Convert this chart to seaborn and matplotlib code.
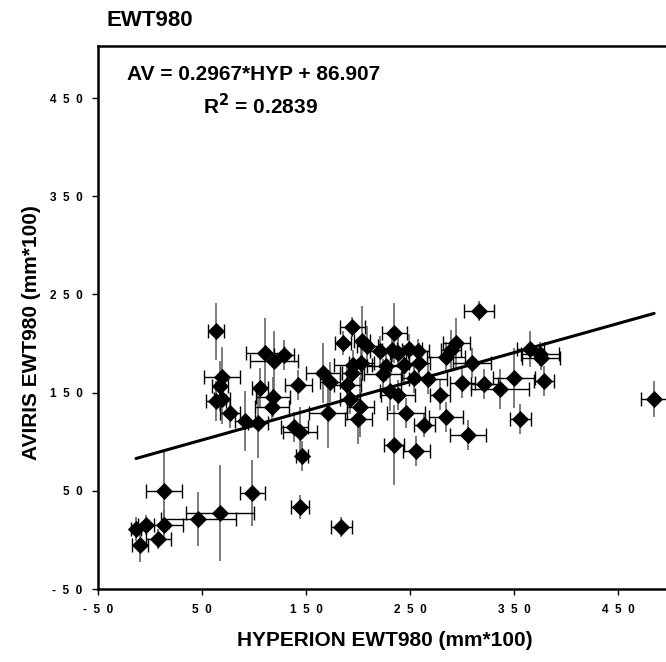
import matplotlib
matplotlib.use("Agg")
import matplotlib.pyplot as plt
import seaborn as sns
import pandas as pd
import numpy as np

# ---- data ----
hyp = [-13.5, -3.8, -9.6, 13.5, 13.5, 7.7, 46.2, 67.3, 98.1, 144.2, 183.7, 146.2, 138.5, 144.2,
       103.8, 91.3, 63.5, 69.2, 67.3, 63.5, 69.2, 76.9, 110.6, 119.2, 128.8, 105.8, 118.3, 117.3,
       194.2, 185.6, 203.8, 208.7, 234.6, 221.2, 232.7, 238.5, 249.0, 257.7, 294.2, 289.4, 284.6,
       316.3, 142.3, 195.2, 202.9, 194.2, 166.3, 173.1, 189.4, 224.0, 226.9, 244.2, 258.7, 253.8,
       267.3, 300.0, 309.6, 192.3, 230.8, 238.5, 278.8, 171.2, 201.9, 200.0, 246.2, 284.6, 263.5,
       305.8, 234.6, 255.8, 321.2, 336.5, 350.0, 365.4, 375.0, 376.0, 378.8, 355.8, 484.6]
av = [11.1, 15.2, -5.2, 49.8, 15.2, 0.9, 21.3, 27.4, 47.8, 33.5, 13.1, 85.4, 115.0, 109.9,
      119.0, 121.1, 212.7, 165.9, 156.7, 141.4, 143.5, 129.2, 190.3, 182.2, 188.3, 154.7, 145.5, 135.3,
      216.8, 200.5, 202.5, 197.5, 210.7, 192.4, 193.4, 190.3, 194.4, 192.4, 200.5, 193.4, 186.3,
      233.1, 157.7, 178.1, 180.1, 170.0, 170.0, 160.8, 157.7, 168.9, 177.1, 178.1, 180.1, 164.9,
      163.8, 159.8, 180.1, 143.5, 151.6, 147.6, 147.6, 129.2, 135.3, 123.1, 129.2, 125.2, 117.0,
      106.8, 96.6, 90.5, 158.8, 153.7, 164.9, 194.4, 189.3, 185.2, 161.8, 123.1, 143.5]
hyp_err = [5, 8, 8, 17, 18, 12, 36, 33, 12, 9, 10, 6, 13, 16,
           10, 10, 8, 17, 8, 10, 8, 10, 18, 23, 10, 8, 16, 16,
           12, 8, 8, 10, 12, 10, 10, 8, 12, 10, 13, 10, 18,
           14, 13, 18, 12, 10, 16, 10, 13, 18, 18, 13, 10, 13,
           18, 12, 18, 10, 10, 16, 10, 18, 13, 13, 18, 16, 10,
           17, 10, 13, 13, 28, 20, 13, 18, 18, 10, 10, 13]
av_err = [12, 10, 17, 41, 15, 10, 27, 49, 34, 12, 10, 15, 15, 25,
          36, 31, 29, 31, 25, 20, 25, 15, 36, 31, 15, 20, 20, 15,
          10, 12, 36, 20, 31, 15, 12, 15, 15, 12, 25, 20, 15,
          10, 15, 15, 15, 15, 31, 20, 20, 15, 15, 20, 20, 15,
          15, 15, 15, 15, 20, 15, 15, 36, 31, 25, 15, 15, 12,
          15, 41, 15, 15, 20, 31, 18, 12, 12, 15, 15, 18]
slope = 0.2967
intercept = 86.907
x_ticks = [-50, 50, 150, 250, 350, 450]
x_ticklabels = ["-  5  0", "5  0", "1  5  0", "2  5  0", "3  5  0", "4  5  0"]
y_ticks = [-50, 50, 150, 250, 350, 450]
y_ticklabels = ["-  5  0", "5  0", "1  5  0", "2  5  0", "3  5  0", "4  5  0"]

df = pd.DataFrame({"HYP": hyp, "AV": av, "HYP_err": hyp_err, "AV_err": av_err})

sns.set_style("white")
plt.rcParams["font.family"] = ["Liberation Sans", "DejaVu Sans"]
plt.rcParams["font.weight"] = "bold"
plt.rcParams["text.color"] = "black"
plt.rcParams["xtick.color"] = "black"
plt.rcParams["ytick.color"] = "black"
plt.rcParams["axes.labelcolor"] = "black"

W, H = 666, 662
fig = plt.figure(figsize=(W / 100, H / 100), dpi=100)
ax = fig.add_axes([98 / W, (H - 589) / H, (666 - 98) / W, (589 - 46) / H])

# error bars: vertical (no caps, gray), horizontal (black with caps)
ax.errorbar(df["HYP"], df["AV"], yerr=df["AV_err"], fmt="none", ecolor="#666666",
            elinewidth=1.2, capsize=0, zorder=2)
ax.errorbar(df["HYP"], df["AV"], xerr=df["HYP_err"], fmt="none", ecolor="black",
            elinewidth=1.0, capsize=5, capthick=1.0, zorder=2)

# regression line
xl = np.array([min(hyp), max(hyp)])
line_df = pd.DataFrame({"x": xl, "y": slope * xl + intercept})
sns.lineplot(data=line_df, x="x", y="y", ax=ax, color="black", linewidth=2.2, zorder=3)

sns.scatterplot(data=df, x="HYP", y="AV", ax=ax, marker="D", s=68, color="black",
                edgecolor="black", linewidth=0.5, zorder=4)

ax.set_xlim(-50, 496)
ax.set_ylim(-50, 503)
ax.set_xticks(x_ticks)
ax.set_xticklabels(x_ticklabels, fontsize=8.5, fontweight="bold", color="black")
ax.set_yticks(y_ticks)
ax.set_yticklabels(y_ticklabels, fontsize=8.5, fontweight="bold", color="black")
ax.tick_params(axis="both", direction="out", length=4, width=1, color="black", pad=7)
ax.xaxis.set_ticks_position("bottom")
ax.yaxis.set_ticks_position("left")

for s in ["left", "bottom", "top"]:
    ax.spines[s].set_visible(True)
    ax.spines[s].set_color("black")
    ax.spines[s].set_linewidth(1.8)
ax.spines["right"].set_visible(False)

ax.set_xlabel("")
ax.set_ylabel("")
fig.text(385 / W, 1 - 640 / H, "HYPERION EWT980 (mm*100)", ha="center", va="center",
         fontsize=15, fontweight="bold", color="black")
fig.text(32 / W, 1 - 333 / H, "AVIRIS EWT980 (mm*100)", ha="center", va="center",
         rotation=90, fontsize=15, fontweight="bold", color="black")
fig.text(107 / W, 1 - 21 / H, "EWT980", ha="left", va="center", fontsize=16,
         fontweight="bold", color="black")
fig.text(127 / W, 1 - 75 / H, "AV = 0.2967*HYP + 86.907", ha="left", va="center",
         fontsize=15, fontweight="bold", color="black")
fig.text(203 / W, 1 - 106 / H, "R$^{2}$ = 0.2839", ha="left", va="center",
         fontsize=15, fontweight="bold", color="black")

fig.savefig("out.png", dpi=100)
